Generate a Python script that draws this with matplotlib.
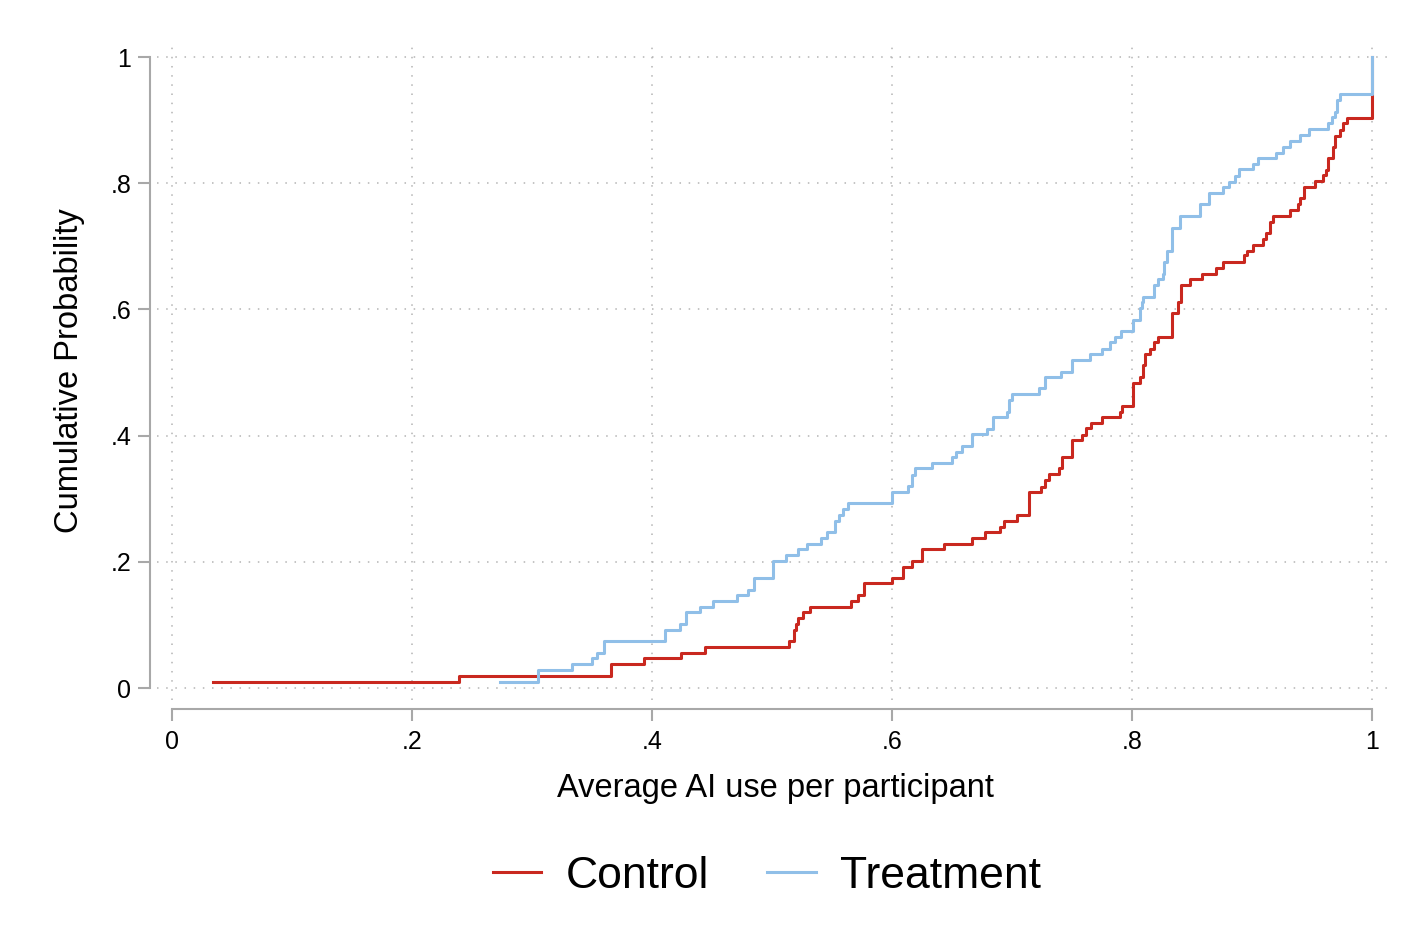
import matplotlib
matplotlib.use("Agg")
import matplotlib.pyplot as plt

plt.rcParams['font.family'] = ['Liberation Sans', 'DejaVu Sans']

control_x = [0.034, 0.239, 0.366, 0.393, 0.424, 0.444, 0.514, 0.518, 0.520, 0.522,
             0.526, 0.532, 0.566, 0.572, 0.577, 0.600, 0.609, 0.617, 0.625, 0.643,
             0.667, 0.6775, 0.690, 0.693, 0.704, 0.714, 0.724, 0.7275, 0.731, 0.739,
             0.742, 0.750, 0.758, 0.762, 0.766, 0.775, 0.790, 0.792, 0.801, 0.807,
             0.809, 0.811, 0.815, 0.818, 0.822, 0.833, 0.8386, 0.841, 0.848, 0.858,
             0.870, 0.8756, 0.8933, 0.8956, 0.9006, 0.9094, 0.912, 0.915, 0.9178, 0.9317,
             0.9386, 0.940, 0.943, 0.9525, 0.959, 0.962, 0.9636, 0.9672, 0.969, 0.973,
             0.976, 0.979, 1.0]
control_y = [0.010, 0.0195, 0.0375, 0.047, 0.056, 0.065, 0.075, 0.092, 0.101, 0.111,
             0.120, 0.129, 0.138, 0.147, 0.166, 0.175, 0.192, 0.2017, 0.2198, 0.229,
             0.238, 0.2467, 0.2557, 0.265, 0.275, 0.311, 0.319, 0.3296, 0.3386, 0.348,
             0.366, 0.393, 0.401, 0.4115, 0.4205, 0.429, 0.438, 0.4474, 0.484, 0.4934,
             0.512, 0.529, 0.538, 0.548, 0.557, 0.594, 0.612, 0.6387, 0.6477, 0.657,
             0.666, 0.6756, 0.686, 0.693, 0.702, 0.711, 0.7206, 0.739, 0.7485, 0.7575,
             0.768, 0.776, 0.7945, 0.804, 0.813, 0.821, 0.8394, 0.8578, 0.875, 0.885,
             0.895, 0.9028, 1.0]

treat_x = [0.273, 0.305, 0.333, 0.350, 0.354, 0.360, 0.411, 0.423, 0.428, 0.440,
           0.451, 0.471, 0.480, 0.485, 0.5006, 0.512, 0.522, 0.529, 0.541, 0.546,
           0.5525, 0.556, 0.559, 0.563, 0.600, 0.6136, 0.6164, 0.619, 0.633, 0.650,
           0.6533, 0.658, 0.667, 0.679, 0.684, 0.6956, 0.6975, 0.700, 0.7225, 0.7275,
           0.741, 0.750, 0.765, 0.775, 0.7817, 0.786, 0.791, 0.8006, 0.8067, 0.808,
           0.8094, 0.8183, 0.822, 0.8256, 0.827, 0.829, 0.833, 0.840, 0.8567, 0.8644,
           0.8756, 0.881, 0.8858, 0.8894, 0.9006, 0.9053, 0.920, 0.926, 0.9317, 0.940,
           0.9478, 0.9636, 0.9664, 0.969, 0.971, 0.9733, 1.0]
treat_y = [0.010, 0.0285, 0.0375, 0.047, 0.055, 0.075, 0.092, 0.101, 0.120, 0.128,
           0.138, 0.147, 0.156, 0.174, 0.201, 0.211, 0.220, 0.229, 0.238, 0.248,
           0.265, 0.274, 0.283, 0.293, 0.311, 0.320, 0.338, 0.348, 0.356, 0.366,
           0.3745, 0.3835, 0.402, 0.411, 0.429, 0.438, 0.456, 0.466, 0.475, 0.493,
           0.501, 0.520, 0.529, 0.538, 0.548, 0.557, 0.566, 0.584, 0.602, 0.612,
           0.620, 0.6387, 0.6477, 0.657, 0.6756, 0.693, 0.7295, 0.748, 0.7666, 0.785,
           0.7945, 0.8024, 0.8114, 0.822, 0.8304, 0.8394, 0.8484, 0.857, 0.867, 0.8764,
           0.8854, 0.895, 0.9044, 0.9133, 0.932, 0.941, 1.0]

ticks = [0, 0.2, 0.4, 0.6, 0.8, 1]
tick_labels = ["0", ".2", ".4", ".6", ".8", "1"]

red = '#c9281f'
blue = '#90bfe8'
axis_gray = '#a8a8a8'

fig = plt.figure(figsize=(14.28, 9.52), dpi=100)
ax = fig.add_axes([157 / 1428, 252 / 952, 1236 / 1428, 658 / 952])

ax.plot(control_x, control_y, drawstyle='steps-post', color=red, lw=2.2, label='Control')
ax.plot(treat_x, treat_y, drawstyle='steps-post', color=blue, lw=2.2, label='Treatment')

ax.set_xlim(-0.0125, 1.0175)
ax.set_ylim(-0.019, 1.024)

ax.set_xticks(ticks)
ax.set_xticklabels(tick_labels)
ax.set_yticks(ticks)
ax.set_yticklabels(tick_labels)

ax.grid(True, color='#b4b4b4', linestyle=(0, (1, 5)), linewidth=1.1)
ax.set_axisbelow(True)

for side in ['top', 'right']:
    ax.spines[side].set_visible(False)
ax.spines['left'].set_position(('outward', 5))
ax.spines['bottom'].set_position(('outward', 6.5))
ax.spines['left'].set_bounds(0, 1)
ax.spines['bottom'].set_bounds(0, 1)
for side in ['left', 'bottom']:
    ax.spines[side].set_color(axis_gray)
    ax.spines[side].set_linewidth(1.5)

ax.tick_params(axis='both', length=8.5, width=1.5, color=axis_gray, labelsize=18)
ax.tick_params(axis='x', pad=6.5)
ax.tick_params(axis='y', pad=5)

ax.set_xlabel('Average AI use per participant', fontsize=23.5, labelpad=14)
ax.set_ylabel('Cumulative Probability', fontsize=23.5, labelpad=18)

fig.legend(loc='center', bbox_to_anchor=(767 / 1428, 1 - 876 / 952), ncol=2,
           frameon=False, fontsize=32, handlelength=1.1, handletextpad=0.55,
           columnspacing=1.3)

fig.savefig('out.png', dpi=100)
